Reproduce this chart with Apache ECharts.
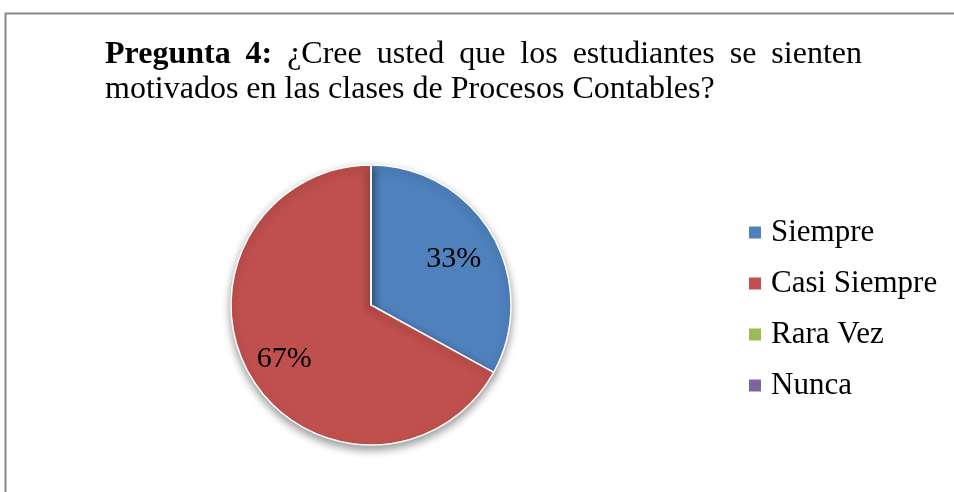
<!DOCTYPE html>
<html>
<head>
<meta charset="utf-8">
<script src="https://cdn.jsdelivr.net/npm/echarts@6/dist/echarts.min.js"></script>
<style>
    html, body { margin: 0; padding: 0; background: #fff; }
    #main { width: 954px; height: 492px; }
</style>
</head>
<body>
<div id="main"></div>
<script>
    // datos del gráfico
    const categories = ['Siempre', 'Casi Siempre', 'Rara Vez', 'Nunca'];
    const values = [33, 67, 0, 0];
    const colors = ['#4F81BD', '#C0504D', '#9BBB59', '#8064A2'];
    const titleBold = ['Pregunta', '4:'];
    const titleLine1 = '¿Cree usted que los estudiantes se sienten';
    const titleLine2 = 'motivados en las clases de Procesos Contables?';

    const FONT = '"Liberation Serif", "Times New Roman", serif';
    const TITLE_SIZE = 32;

    // justificar la primera línea como en el documento original
    const ctx = document.createElement('canvas').getContext('2d');
    function measure(t, bold) {
        ctx.font = (bold ? 'bold ' : '') + TITLE_SIZE + 'px ' + FONT;
        return ctx.measureText(t).width;
    }
    let words = titleBold.map(w => ({text: w, bold: true}))
        .concat(titleLine1.split(' ').map(w => ({text: w, bold: false})));
    let left = 105, right = 862;
    let total = 0;
    words.forEach(w => { w.w = measure(w.text, w.bold); total += w.w; });
    let gap = (right - left - total) / (words.length - 1);
    let graphics = [];
    let x = left;
    words.forEach(w => {
        graphics.push({
            type: 'text', left: x, top: 39,
            style: {text: w.text, font: (w.bold ? 'bold ' : '') + TITLE_SIZE + 'px ' + FONT, fill: '#000'}
        });
        x += w.w + gap;
    });
    graphics.push({
        type: 'text', left: left, top: 74,
        style: {text: titleLine2, font: TITLE_SIZE + 'px ' + FONT, fill: '#000'}
    });
    // marco
    graphics.push({
        type: 'rect', shape: {x: 5.5, y: 13.5, width: 1200, height: 1200},
        style: {fill: 'none', stroke: '#878787', lineWidth: 2}, silent: true
    });

    const labelOffsets = [[20, -9], [-24, 17], [0, 0], [0, 0]];
    let pieData = [];
    for (let i = 0; i < categories.length; i++) {
        pieData.push({
            name: categories[i],
            value: values[i],
            itemStyle: {color: colors[i]},
            label: {offset: labelOffsets[i]}
        });
    }

    let myEchart = echarts.init(document.getElementById('main'));
    let option = {
        backgroundColor: '#fff',
        animation: false,
        graphic: graphics,
        legend: {
            orient: 'vertical',
            left: 747,
            top: 217,
            padding: 0,
            itemWidth: 14,
            itemHeight: 14,
            itemGap: 20,
            icon: 'rect',
            data: categories,
            textStyle: {fontFamily: FONT, fontSize: 31, lineHeight: 31, color: '#000', padding: [0, 0, 0, 4]}
        },
        series: [{
            type: 'pie',
            center: [371, 305],
            radius: 140,
            startAngle: 90,
            clockwise: true,
            data: pieData,
            itemStyle: {
                borderColor: '#fff',
                borderWidth: 1.5,
                shadowBlur: 9,
                shadowColor: 'rgba(0,0,0,0.4)',
                shadowOffsetY: 4
            },
            label: {
                position: 'inside',
                fontFamily: FONT,
                fontSize: 30,
                color: '#000',
                formatter: p => p.value > 0 ? Math.round(p.percent) + '%' : ''
            },
            labelLine: {show: false},
            emphasis: {disabled: true}
        }]
    };
    myEchart.setOption(option);
</script>
</body>
</html>
